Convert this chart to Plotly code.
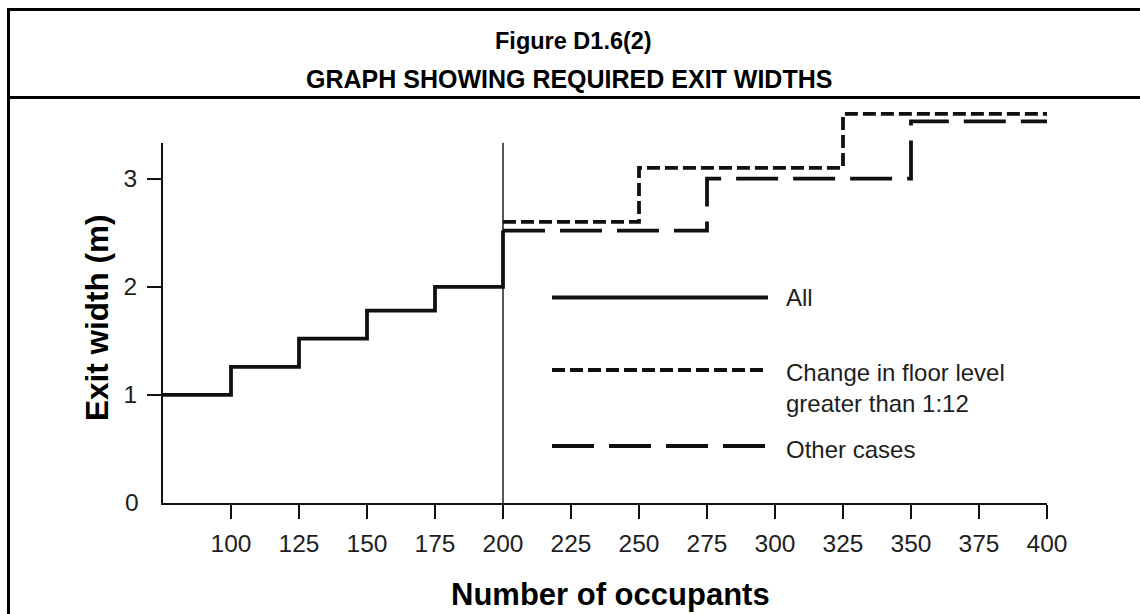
import plotly.graph_objects as go

# Required exit width (m) against number of occupants, as stepped lines
all_occupants = [75, 100, 125, 150, 175, 200]
all_widths = [1.0, 1.26, 1.52, 1.78, 2.0, 2.52]

floor_change_occupants = [200, 250, 325, 400]
floor_change_widths = [2.6, 3.1, 3.6, 3.6]

other_occupants = [200, 275, 350, 400]
other_widths = [2.52, 3.0, 3.53, 3.53]

x_tick_values = [100, 125, 150, 175, 200, 225, 250, 275, 300, 325, 350, 375, 400]
y_tick_values = [1, 2, 3]

legend_labels = ["All", "Change in floor level<br>greater than 1:12", "Other cases"]

FONT = "Liberation Sans, Arial, Helvetica, sans-serif"
INK = "#111111"
TEXT = "#1e1e1e"

W, H = 1140, 614
ML, MR, MT, MB = 163, 93, 103, 111
PW, PH = W - ML - MR, H - MT - MB


def px_x(px):
    return (px - ML) / PW


def px_y(py):
    return (H - MB - py) / PH


SHORT_DASH = "13px,5px"
LONG_DASH = "42px,15px"
LW = 3.8

fig = go.Figure()

fig.add_trace(go.Scatter(
    x=all_occupants, y=all_widths, mode="lines", line_shape="hv",
    line=dict(color=INK, width=LW), xaxis="x", yaxis="y2", showlegend=False,
))
fig.add_trace(go.Scatter(
    x=floor_change_occupants, y=floor_change_widths, mode="lines", line_shape="hv",
    line=dict(color=INK, width=LW, dash=SHORT_DASH), xaxis="x", yaxis="y2", showlegend=False,
))
fig.add_trace(go.Scatter(
    x=other_occupants, y=other_widths, mode="lines", line_shape="hv",
    line=dict(color=INK, width=LW, dash=LONG_DASH), xaxis="x", yaxis="y2", showlegend=False,
))

Y_TOP = 3.7          # full drawing range
Y_AXIS_TOP = 3.333   # where the drawn axis stops

fig.update_layout(
    width=W, height=H,
    margin=dict(l=ML, r=MR, t=MT, b=MB),
    paper_bgcolor="white", plot_bgcolor="rgba(0,0,0,0)",
    font=dict(family=FONT, color=TEXT, size=24),
    xaxis=dict(
        range=[75, 400], tickvals=x_tick_values, showgrid=False, zeroline=False,
        showline=True, linecolor=INK, linewidth=2,
        ticks="outside", ticklen=14, tickwidth=1.6, tickcolor=INK,
        tickfont=dict(size=24.5, color=TEXT), ticklabelstandoff=4,
        anchor="y",
    ),
    yaxis=dict(
        range=[0, Y_AXIS_TOP], domain=[0, Y_AXIS_TOP / Y_TOP],
        tickvals=y_tick_values, showgrid=False, zeroline=False,
        showline=True, linecolor=INK, linewidth=2,
        ticks="outside", ticklen=14, tickwidth=1.6, tickcolor=INK,
        tickfont=dict(size=24.5, color=TEXT), ticklabelstandoff=5,
        anchor="x",
    ),
    yaxis2=dict(
        range=[0, Y_TOP], domain=[0, 1], anchor="x", visible=False,
        showgrid=False, zeroline=False,
    ),
)

shapes = [
    # thin reference line at 200 occupants
    dict(type="line", xref="x", yref="y domain", x0=200, x1=200, y0=0, y1=1,
         line=dict(color=INK, width=1.4)),
    # page frame: left edge, top edge, rule under the heading
    dict(type="line", xref="paper", yref="paper", x0=px_x(8.5), x1=px_x(8.5),
         y0=px_y(8), y1=px_y(H + 5), line=dict(color="black", width=3)),
    dict(type="line", xref="paper", yref="paper", x0=px_x(7), x1=px_x(W + 5),
         y0=px_y(9.5), y1=px_y(9.5), line=dict(color="black", width=3)),
    dict(type="line", xref="paper", yref="paper", x0=px_x(7), x1=px_x(W + 5),
         y0=px_y(97.5), y1=px_y(97.5), line=dict(color="black", width=3)),
]

# legend keys drawn as long sample lines
legend_rows = [(297.5, None), (370, SHORT_DASH), (446, LONG_DASH)]
for (py, dash) in legend_rows:
    ln = dict(color=INK, width=LW)
    if dash:
        ln["dash"] = dash
    shapes.append(dict(type="line", xref="paper", yref="paper",
                       x0=px_x(552), x1=px_x(768), y0=px_y(py), y1=px_y(py), line=ln))
fig.update_layout(shapes=shapes)

annotations = [
    dict(text="<b>Figure D1.6(2)</b>", x=px_x(573), y=px_y(41), xref="paper", yref="paper",
         showarrow=False, font=dict(size=23.5, color="black"), xanchor="center", yanchor="middle"),
    dict(text="<b>GRAPH SHOWING REQUIRED EXIT WIDTHS</b>", x=px_x(569), y=px_y(79),
         xref="paper", yref="paper", showarrow=False, font=dict(size=25, color="black"),
         xanchor="center", yanchor="middle"),
    dict(text="<b>Exit width (m)</b>", x=px_x(97), y=px_y(318), xref="paper", yref="paper",
         showarrow=False, textangle=-90, font=dict(size=31.5, color="black"),
         xanchor="center", yanchor="middle"),
    dict(text="<b>Number of occupants</b>", x=px_x(610), y=px_y(594), xref="paper", yref="paper",
         showarrow=False, font=dict(size=31, color="black"),
         xanchor="center", yanchor="middle"),
    # label for the origin of the width axis
    dict(text="0", x=px_x(141), y=0, xref="paper", yref="y", showarrow=False,
         font=dict(size=24.5, color=TEXT), xanchor="right", yanchor="middle"),
]
legend_text_y = [297.5, 388, 449]
for label, py in zip(legend_labels, legend_text_y):
    annotations.append(dict(text=label, x=px_x(784), y=px_y(py), xref="paper", yref="paper",
                            showarrow=False, align="left", font=dict(size=24, color=TEXT),
                            xanchor="left", yanchor="middle"))
fig.update_layout(annotations=annotations)

fig.write_html("out.html")
